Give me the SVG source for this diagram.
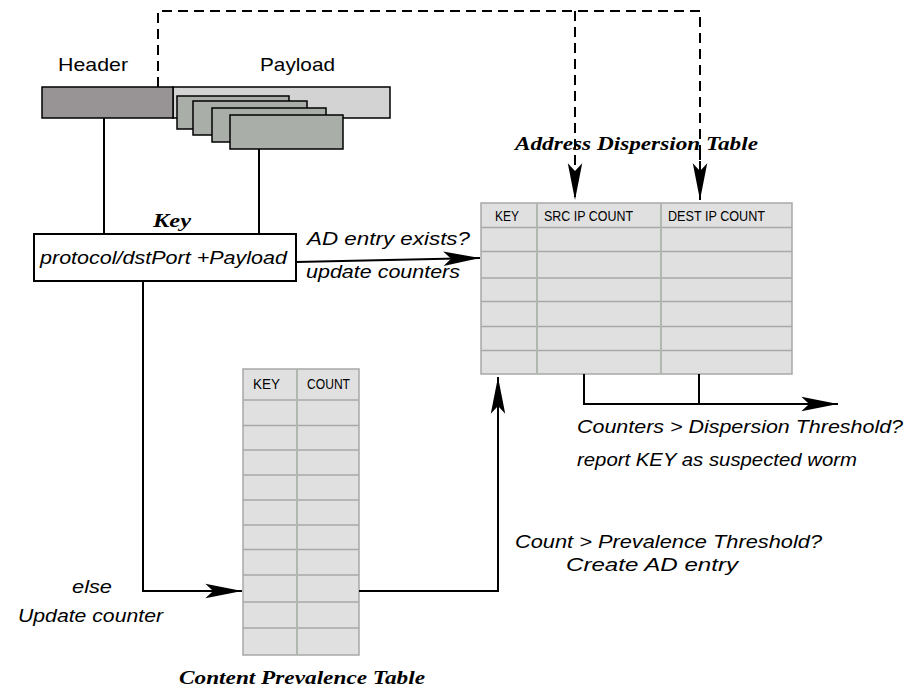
<svg xmlns="http://www.w3.org/2000/svg" width="913" height="699" viewBox="0 0 913 699">
<style>
.sans{font-family:"Liberation Sans",Arial,sans-serif;fill:#000}
.it{font-style:italic;font-size:19px}
.lbl{font-size:19px}
.ttl{font-family:"Liberation Serif","Times New Roman",serif;font-weight:bold;font-style:italic;font-size:19px;fill:#000}
.th{font-family:"Liberation Sans",Arial,sans-serif;font-size:15px;fill:#000}
.cell{fill:#e0e0e0;stroke:#a8a8a8;stroke-width:1.5}
.row{stroke:#a8a8a8;stroke-width:1.5}
.col{stroke:#b0b8b0;stroke-width:2}
.conn{fill:none;stroke:#000;stroke-width:2}
.dash{fill:none;stroke:#000;stroke-width:2;stroke-dasharray:10 6}
.pkt{fill:#a9aea9;stroke:#000;stroke-width:1.5}
</style>
<defs>
<marker id="ah" markerUnits="userSpaceOnUse" markerWidth="40" markerHeight="20" viewBox="-34 -8 36 16" refX="0" refY="0" orient="auto">
<path d="M0,0 L-33,-6.5 L-26,0 L-33,6.5 Z" fill="#000"/>
</marker>
</defs>
<rect width="913" height="699" fill="#fff"/>

<g id="packet">
<text class="sans lbl" x="58" y="71" textLength="70" lengthAdjust="spacingAndGlyphs">Header</text>
<text class="sans lbl" x="260" y="71" textLength="75" lengthAdjust="spacingAndGlyphs">Payload</text>
<rect x="173" y="87" width="217" height="31" fill="#d3d3d3" stroke="#000" stroke-width="1.5"/>
<rect x="42" y="87" width="131" height="31" fill="#989395" stroke="#000" stroke-width="1.5"/>
<rect class="pkt" x="177" y="96" width="112" height="33"/>
<rect class="pkt" x="193" y="101" width="114" height="34"/>
<rect class="pkt" x="212" y="108" width="114" height="34"/>
<rect class="pkt" x="230" y="115" width="113" height="34"/>
</g>

<g id="key">
<text class="ttl" x="153" y="227" textLength="38" lengthAdjust="spacingAndGlyphs">Key</text>
<rect x="34" y="234" width="262" height="47" fill="#fff" stroke="#000" stroke-width="2"/>
<text class="sans it" x="40" y="264" textLength="247" lengthAdjust="spacingAndGlyphs">protocol/dstPort +Payload</text>
</g>

<g id="ad-table">
<text class="ttl" x="515" y="150" textLength="243" lengthAdjust="spacingAndGlyphs">Address Dispersion Table</text>
<rect class="cell" x="481" y="203" width="311" height="171"/>
<line class="row" x1="481" y1="227.5" x2="792" y2="227.5"/>
<line class="row" x1="481" y1="251.5" x2="792" y2="251.5"/>
<line class="row" x1="481" y1="278" x2="792" y2="278"/>
<line class="row" x1="481" y1="301.5" x2="792" y2="301.5"/>
<line class="row" x1="481" y1="326.5" x2="792" y2="326.5"/>
<line class="row" x1="481" y1="350.5" x2="792" y2="350.5"/>
<line class="col" x1="537" y1="203" x2="537" y2="374"/>
<line class="col" x1="661" y1="203" x2="661" y2="374"/>
<text class="th" x="495" y="221" textLength="24" lengthAdjust="spacingAndGlyphs">KEY</text>
<text class="th" x="544" y="221" textLength="89" lengthAdjust="spacingAndGlyphs">SRC IP COUNT</text>
<text class="th" x="668" y="221" textLength="97" lengthAdjust="spacingAndGlyphs">DEST IP COUNT</text>
</g>

<g id="cp-table">
<rect class="cell" x="243" y="369" width="116" height="286"/>
<line class="row" x1="243" y1="400" x2="359" y2="400"/>
<line class="row" x1="243" y1="425.5" x2="359" y2="425.5"/>
<line class="row" x1="243" y1="450" x2="359" y2="450"/>
<line class="row" x1="243" y1="475" x2="359" y2="475"/>
<line class="row" x1="243" y1="500" x2="359" y2="500"/>
<line class="row" x1="243" y1="525" x2="359" y2="525"/>
<line class="row" x1="243" y1="549.5" x2="359" y2="549.5"/>
<line class="row" x1="243" y1="575" x2="359" y2="575"/>
<line class="row" x1="243" y1="602" x2="359" y2="602"/>
<line class="row" x1="243" y1="628" x2="359" y2="628"/>
<line class="col" x1="297" y1="369" x2="297" y2="655"/>
<text class="th" x="253" y="389" textLength="27" lengthAdjust="spacingAndGlyphs">KEY</text>
<text class="th" x="307" y="389" textLength="43" lengthAdjust="spacingAndGlyphs">COUNT</text>
<text class="ttl" x="179" y="684" textLength="246" lengthAdjust="spacingAndGlyphs">Content Prevalence Table</text>
</g>

<g id="connectors">
<path class="dash" d="M158,87 V11 H700 V200"/>
<path class="dash" d="M575,11 V200" marker-end="url(#ah)"/>
<path class="dash" d="M700,150 V200" marker-end="url(#ah)"/>
<line class="conn" x1="104" y1="118" x2="104" y2="234"/>
<line class="conn" x1="259" y1="149" x2="259" y2="234"/>
<path class="conn" d="M296,262 L480,258" marker-end="url(#ah)"/>
<path class="conn" d="M143,281 V591 H242" marker-end="url(#ah)"/>
<path class="conn" d="M359,591 H498 V377" marker-end="url(#ah)"/>
<path class="conn" d="M584,374 V404 H838" marker-end="url(#ah)"/>
<line class="conn" x1="699" y1="374" x2="699" y2="404"/>
</g>

<g id="labels">
<text class="sans it" x="307" y="245" textLength="163" lengthAdjust="spacingAndGlyphs">AD entry exists?</text>
<text class="sans it" x="306" y="278" textLength="154" lengthAdjust="spacingAndGlyphs">update counters</text>
<text class="sans it" x="577" y="433" textLength="326" lengthAdjust="spacingAndGlyphs">Counters &gt; Dispersion Threshold?</text>
<text class="sans it" x="577" y="466" textLength="280" lengthAdjust="spacingAndGlyphs">report KEY as suspected worm</text>
<text class="sans it" x="515" y="548" textLength="307" lengthAdjust="spacingAndGlyphs">Count &gt; Prevalence Threshold?</text>
<text class="sans it" x="566" y="571" textLength="172" lengthAdjust="spacingAndGlyphs">Create AD entry</text>
<text class="sans it" x="72" y="593" textLength="40" lengthAdjust="spacingAndGlyphs">else</text>
<text class="sans it" x="18" y="622" textLength="145" lengthAdjust="spacingAndGlyphs">Update counter</text>
</g>
</svg>
